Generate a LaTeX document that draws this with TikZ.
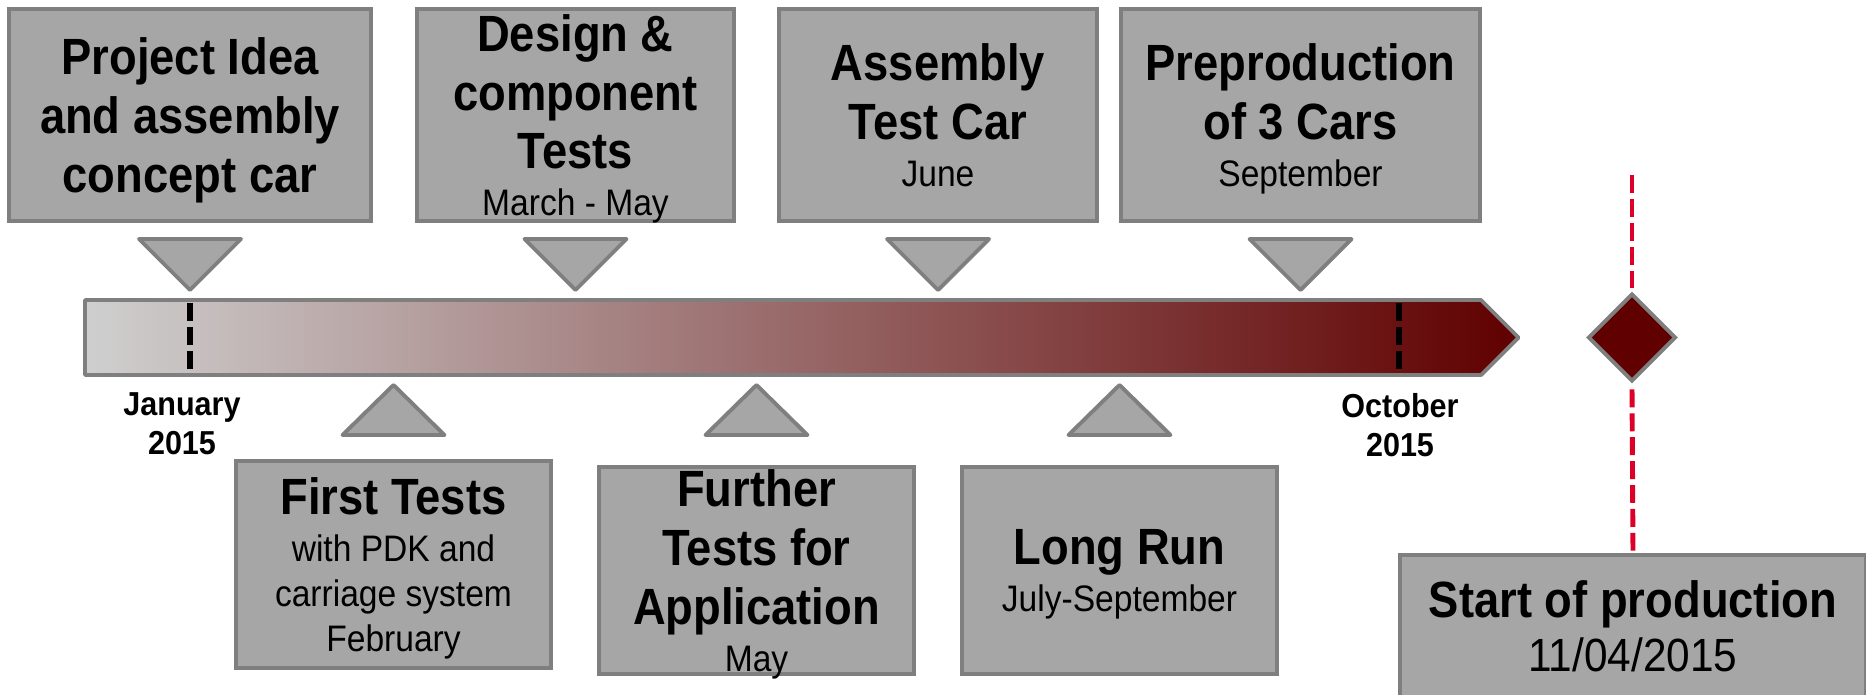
\documentclass[tikz,border=0pt]{standalone}
\usepackage{fontspec}
\setmainfont{Liberation Sans}
\newfontfamily\headcn{Liberation Sans}[FakeStretch=0.89]
\newfontfamily\boldcn{Liberation Sans}[FakeStretch=0.92]
\newfontfamily\plaincn{Liberation Sans}[FakeStretch=0.91]
\usepackage{xcolor}
\usepackage{tikz}
\usetikzlibrary{shapes.geometric,calc,positioning}

\definecolor{boxfill}{HTML}{A6A6A6}
\definecolor{boxline}{HTML}{7F7F7F}
\definecolor{barstart}{HTML}{CFCFCF}
\definecolor{darkred}{HTML}{600000}
\definecolor{sopred}{HTML}{DC0028}

\newcommand{\tlpx}{0.02cm}
\newcommand{\tlhead}{\headcn\bfseries\fontsize{29}{33.4}\selectfont}
\newcommand{\tlsub}{\plaincn\mdseries\fontsize{21}{25.5}\selectfont}
\newcommand{\tlbig}{\plaincn\mdseries\fontsize{26.5}{30}\selectfont}
\newcommand{\tldate}{\boldcn\bfseries\fontsize{18.9}{22}\selectfont}

\begin{document}
\begin{tikzpicture}[x=0.02cm, y=-0.02cm,
    milebox/.style={rectangle, draw=boxline, fill=boxfill, line width=2.2pt,
        inner sep=0pt, align=center, font=\tlhead, text=black, text depth=0pt},
    topbox/.style={milebox, minimum height=212*\tlpx},
    lowbox/.style={milebox, minimum height=207*\tlpx, minimum width=315*\tlpx},
    pointer/.style={draw=boxline, fill=boxfill, line width=2.2pt, line join=round},
    datelabel/.style={align=center, font=\tldate},
    tickline/.style={line width=3pt, dash pattern=on 10.5pt off 3.1pt},
    sopline/.style={draw=sopred, line width=2.8pt, dash pattern=on 10.2pt off 3.4pt}]

    \useasboundingbox (0,0) rectangle (1866,694);

    % Milestones above the bar
    \node[topbox, minimum width=362*\tlpx] (idea) at (190,115)
        {Project Idea\\and assembly\\concept car};
    \node[topbox, minimum width=317*\tlpx] (design) at (575.5,115)
        {Design \&\\component\\Tests\\[-6.8pt]{\tlsub March - May}};
    \node[topbox, minimum width=318*\tlpx] (testcar) at (938,115)
        {Assembly\\Test Car\\[-6.8pt]{\tlsub June}};
    \node[topbox, minimum width=359*\tlpx] (prepro) at (1300.5,115)
        {Preproduction\\of 3 Cars\\[-6.8pt]{\tlsub September}};

    % Milestones below the bar
    \node[lowbox] (first) at (393.5,564.5)
        {First Tests\\[-6.8pt]{\tlsub with PDK and}\\[-7.9pt]{\tlsub carriage system}\\[-7.9pt]{\tlsub February}};
    \node[lowbox] (further) at (756.5,570.5)
        {Further\\Tests for\\Application\\[-6.8pt]{\tlsub May}};
    \node[lowbox] (longrun) at (1119.5,570.5)
        {Long Run\\[-6.8pt]{\tlsub July-September}};

    % Pointers
    \coordinate (upbase) at (0,239);
    \coordinate (uptip) at (0,290);
    \coordinate (lowbase) at (0,435);
    \coordinate (lowtip) at (0,385);
    \foreach \m in {idea,design,testcar,prepro}
        \draw[pointer] ($(\m.south |- upbase)+(-51,0)$) -- ($(\m.south |- upbase)+(51,0)$)
            -- (\m.south |- uptip) -- cycle;
    \foreach \m in {first,further,longrun}
        \draw[pointer] ($(\m.north |- lowbase)+(-51,0)$) -- ($(\m.north |- lowbase)+(51,0)$)
            -- (\m.north |- lowtip) -- cycle;

    % Time bar
    \path[draw=boxline, line width=2.2pt, line join=round, left color=barstart, right color=darkred]
        (85,300) -- (1481,300) -- (1518.5,337.5) -- (1481,375) -- (85,375) -- cycle;
    \draw[tickline] (190,303) -- (190,370);
    \draw[tickline] (1399,303) -- (1399,370);
    \node[datelabel] (jan) at (182,424) {January\\2015};
    \node[datelabel] (oct) at (1400,425) {October\\2015};

    % Start of production
    \node[diamond, draw=boxline, fill=darkred, line width=2.2pt, inner sep=0pt,
        minimum width=88*\tlpx, minimum height=88*\tlpx] (sopmark) at (1632,337.5) {};
    \node[milebox, minimum width=466*\tlpx, minimum height=142*\tlpx] (sop) at (1633,626)
        {Start of production\\[-3pt]{\tlbig 11/04/2015}};
    \coordinate (soptop) at (1632,175);
    \draw[sopline] (soptop) -- ($(sopmark.north)+(0,-4)$);
    \draw[sopline] ($(sopmark.south)+(0,6)$) -- (sop.north);
\end{tikzpicture}
\end{document}
